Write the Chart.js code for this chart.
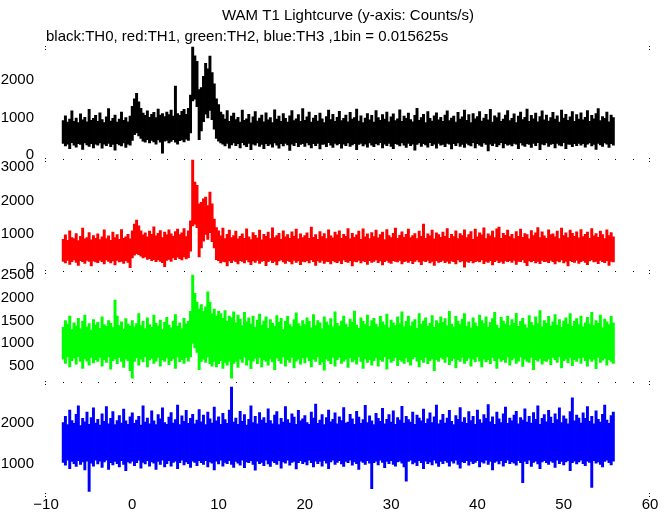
<!DOCTYPE html>
<html>
<head>
<meta charset="utf-8">
<script src="https://cdn.jsdelivr.net/npm/chart.js@4.4.1/dist/chart.umd.min.js"></script>
<style>
  html, body { margin: 0; padding: 0; background: #fff; }
</style>
</head>
<body>
<canvas id="lc" width="672" height="515"></canvas>
<script>
// each sample is the max / min of the curve inside a 0.25 s slice,
// read off the plot; the first slice is centred on t = -8 s
const binStart = -8;
const binStep = 0.25;

// black: TH0
const th0Hi = [
  920, 1050, 880, 960, 1180, 900, 990, 870, 1100, 940, 1010, 890, 1220, 930, 980, 1060,
  900, 1130, 950, 870, 1020, 1240, 910, 980, 1070, 880, 960, 1150, 930, 1000, 890, 1040,
  1300, 1500, 1650, 1420, 1250, 1120, 1060, 1180, 1010, 1090, 1140, 1000, 1230, 1070, 1110, 1030,
  1150, 1080, 1200, 1040, 1840, 1110, 1060, 1170, 1220, 1090, 1250, 1600, 2880, 2650, 2500, 1750,
  1800, 2100, 2450, 2300, 2640, 2200, 1900, 1500, 1350, 1150, 1080, 960, 1190, 900, 1040, 1120,
  950, 1010, 880, 1200, 930, 970, 1090, 860, 1020, 1160, 910, 990, 1070, 890, 1130, 940,
  1000, 870, 1210, 960, 1040, 900, 1110, 980, 880, 1050, 1190, 920, 970, 1080, 900, 1240,
  930, 1020, 1150, 880, 990, 1060, 910, 1120, 970, 870, 1030, 1200, 950, 1090, 900, 1010,
  1170, 920, 980, 1070, 890, 1140, 960, 1000, 1230, 910, 1050, 870, 990, 1110, 940, 1060,
  880, 1190, 1000, 930, 1080, 960, 1150, 890, 1020, 1100, 920, 970, 1210, 900, 1040, 980,
  1120, 950, 890, 1060, 1250, 930, 1000, 1090, 870, 1160, 980, 910, 1050, 1130, 940, 1010,
  900, 1070, 1180, 920, 990, 1040, 880, 1140, 960, 1020, 1200, 930, 1080, 870, 1110, 970,
  1030, 1160, 910, 990, 1090, 940, 1220, 880, 1050, 1000, 1130, 900, 960, 1070, 1190, 920,
  980, 1100, 870, 1040, 1150, 950, 1010, 1230, 900, 1060, 970, 1120, 890, 1030, 1180, 940,
  1070, 910, 1000, 1140, 960, 1050, 880, 1200, 990, 1090, 930, 1020, 1160, 900, 1080, 960,
  1130, 940, 1010, 1190, 900, 1060, 970, 1110, 1240, 920, 1030, 980, 1150, 890, 1070, 1000
];
const th0Lo = [
  320, 250, 300, 180, 340, 270, 220, 310, 290, 160, 330, 280, 240, 310, 200, 300,
  270, 330, 190, 300, 260, 320, 230, 290, 140, 310, 280, 250, 330, 210, 300, 270,
  400, 550, 600, 520, 450, 380, 350, 420, 330, 400, 360, 300, 410, 350, 60, 380,
  400, 330, 370, 420, 350, 300, 390, 410, 360, 430, 400, 600, 1450, 1500, 1300, 420,
  650, 900, 1100, 1000, 1200, 950, 700, 450, 380, 330, 300, 250, 320, 190, 280, 330,
  260, 310, 200, 340, 280, 230, 320, 150, 300, 270, 330, 240, 290, 180, 310, 260,
  300, 220, 330, 270, 190, 310, 250, 320, 280, 130, 300, 260, 340, 230, 290, 310,
  240, 330, 280, 200, 310, 260, 320, 170, 290, 300, 230, 340, 270, 210, 320, 280,
  310, 190, 300, 260, 330, 240, 280, 310, 150, 290, 320, 250, 300, 220, 330, 270,
  230, 310, 280, 340, 200, 300, 260, 320, 240, 180, 310, 290, 250, 330, 270, 210,
  320, 260, 300, 140, 290, 330, 240, 310, 280, 220, 340, 260, 300, 190, 320, 270,
  290, 230, 320, 300, 170, 310, 260, 330, 240, 290, 210, 320, 280, 250, 340, 200,
  310, 270, 240, 330, 290, 120, 300, 260, 320, 230, 280, 340, 200, 310, 270, 290,
  250, 320, 300, 180, 330, 270, 240, 310, 290, 210, 320, 260, 340, 150, 300, 280,
  330, 240, 290, 310, 200, 320, 270, 250, 340, 180, 300, 290, 230, 310, 260, 320,
  270, 310, 220, 300, 330, 250, 290, 160, 320, 280, 240, 330, 300, 210, 310, 270
];

// red: TH1
const th1Hi = [
  850, 980, 820, 1100, 900, 870, 1020, 810, 940, 1180, 860, 900, 1050, 830, 960, 880,
  1010, 840, 920, 1130, 870, 950, 820, 1060, 900, 990, 850, 1140, 880, 920, 1000, 860,
  1100, 1300, 1420, 1250, 1100, 980, 1040, 920, 1090, 1000, 1220, 950, 1030, 1110, 900, 1060,
  980, 1130, 1010, 940, 1080, 1150, 990, 1040, 1170, 930, 1100, 1400, 3200, 2550, 2450, 1900,
  1950, 2050, 2100, 1850, 2250, 1900, 1450, 1200, 1100, 950, 1180, 870, 1000, 1120, 900, 960,
  1090, 860, 940, 1010, 880, 1160, 920, 840, 1050, 970, 890, 1120, 830, 1000, 940, 1060,
  870, 1190, 900, 960, 1030, 850, 1100, 920, 990, 880, 1070, 940, 1150, 860, 1010, 900,
  960, 1040, 880, 1210, 910, 990, 850, 1080, 930, 1020, 870, 1130, 950, 890, 1060, 980,
  1100, 880, 1000, 940, 1170, 860, 1030, 910, 980, 1090, 850, 1160, 920, 1010, 870, 1050,
  930, 1120, 890, 990, 1060, 840, 1140, 960, 900, 1030, 1180, 880, 970, 1070, 910, 1000,
  1150, 900, 960, 1020, 870, 1090, 940, 1300, 880, 1010, 950, 1120, 860, 1040, 990, 910,
  1060, 940, 1170, 880, 1000, 930, 1100, 870, 1020, 960, 1130, 900, 990, 1080, 850, 1150,
  920, 1040, 980, 1190, 870, 1010, 950, 1090, 900, 1160, 1210, 880, 1030, 970, 1120, 930,
  1000, 870, 1080, 940, 1150, 910, 1020, 990, 860, 1110, 960, 1040, 1200, 900, 1070, 950,
  880, 1130, 990, 1010, 920, 1090, 870, 1180, 960, 1040, 900, 1120, 1030, 940, 1070, 890,
  1140, 930, 1000, 1060, 880, 1170, 950, 1020, 910, 1090, 990, 870, 1130, 960, 1050, 920
];
const th1Lo = [
  200, 150, 230, 110, 190, 240, 170, 80, 220, 190, 140, 230, 200, 60, 210, 180,
  160, 230, 190, 120, 240, 200, 150, 210, 90, 230, 180, 200, 140, 220, 170, 10,
  300, 380, 430, 400, 350, 300, 330, 260, 280, 220, 250, 190, 240, 200, 160, 40,
  230, 260, 200, 300, 250, 320, 280, 240, 330, 270, 310, 500, 1250, 1300, 1200, 330,
  600, 800, 1000, 850, 1050, 780, 600, 250, 220, 150, 200, 180, 60, 210, 160, 230,
  190, 120, 220, 200, 150, 240, 180, 100, 210, 170, 230, 140, 200, 220, 70, 190,
  230, 160, 200, 90, 210, 240, 180, 140, 220, 190, 120, 230, 170, 210, 100, 200,
  180, 220, 150, 240, 190, 80, 210, 170, 230, 140, 200, 190, 120, 220, 180, 160,
  210, 130, 240, 190, 170, 220, 60, 200, 180, 230, 150, 210, 190, 110, 220, 170,
  200, 240, 160, 210, 90, 190, 230, 170, 140, 220, 200, 180, 230, 120, 190, 210,
  170, 220, 130, 200, 240, 180, 100, 210, 190, 230, 150, 200, 80, 220, 170, 190,
  230, 160, 200, 140, 210, 190, 120, 240, 180, 210, 30, 200, 170, 220, 150, 190,
  210, 180, 240, 130, 200, 170, 220, 90, 190, 230, 160, 200, 140, 210, 190, 220,
  170, 230, 110, 200, 190, 240, 160, 70, 210, 180, 220, 150, 200, 130, 230, 190,
  200, 160, 230, 190, 120, 210, 180, 240, 150, 200, 60, 220, 190, 170, 230, 140,
  190, 220, 170, 100, 210, 240, 180, 200, 130, 230, 190, 160, 220, 80, 200, 180
];

// green: TH2
const th2Hi = [
  1350, 1500, 1420, 1600, 1300, 1450, 1380, 1550, 1320, 1480, 1620, 1360, 1430, 1290, 1520, 1400,
  1460, 1330, 1580, 1410, 1370, 1500, 1440, 1350, 1950, 1600, 1390, 1470, 1310, 1540, 1420, 1380,
  1500, 1360, 1430, 1650, 1390, 1480, 1320, 1560, 1410, 1350, 1620, 1440, 1380, 1510, 1300, 1460,
  1570, 1400, 1340, 1490, 1630, 1370, 1450, 1320, 1550, 1420, 1480, 1700, 2500, 2100, 1900, 1750,
  1850, 1700, 1800, 2130, 1900, 1650, 1750, 1600, 1700, 1650, 1550, 1720, 1480, 1600, 1560, 1690,
  1450, 1620, 1530, 1390, 1680, 1470, 1560, 1420, 1600, 1350, 1510, 1640, 1400, 1490, 1580, 1330,
  1520, 1440, 1370, 1610, 1460, 1550, 1300, 1480, 1590, 1410, 1360, 1520, 1670, 1430, 1380, 1500,
  1410, 1560, 1480, 1340, 1630, 1390, 1500, 1450, 1320, 1580, 1470, 1400, 1540, 1360, 1690, 1440,
  1380, 1490, 1600, 1420, 1350, 1530, 1460, 1710, 1400, 1330, 1560, 1480, 1410, 1620, 1370, 1500,
  1550, 1420, 1360, 1590, 1470, 1400, 1640, 1340, 1510, 1450, 1390, 1580, 1430, 1690, 1360, 1480,
  1600, 1380, 1470, 1520, 1330, 1650, 1420, 1490, 1560, 1370, 1440, 1610, 1350, 1500, 1430, 1580,
  1460, 1540, 1390, 1700, 1420, 1360, 1590, 1480, 1410, 1530, 1650, 1380, 1470, 1340, 1560, 1450,
  1370, 1620, 1500, 1430, 1580, 1350, 1460, 1540, 1680, 1400, 1330, 1570, 1490, 1420, 1600, 1390,
  1520, 1440, 1660, 1370, 1480, 1550, 1410, 1340, 1610, 1460, 1390, 1580, 1430, 1720, 1360, 1500,
  1440, 1590, 1380, 1470, 1630, 1400, 1520, 1350, 1490, 1560, 1420, 1650, 1370, 1480, 1540, 1410,
  1600, 1360, 1450, 1570, 1420, 1680, 1390, 1500, 1440, 1620, 1340, 1530, 1470, 1410, 1590, 1450
];
const th2Lo = [
  650, 560, 700, 480, 620, 680, 540, 700, 600, 450, 660, 610, 520, 690, 570, 640,
  600, 690, 500, 640, 580, 700, 430, 620, 660, 550, 690, 600, 470, 650, 620, 400,
  235, 600, 680, 520, 650, 590, 700, 480, 630, 670, 560, 610, 690, 500, 640, 600,
  680, 530, 620, 660, 450, 700, 590, 640, 560, 690, 610, 700, 1000, 900, 800, 420,
  600, 650, 580, 700, 550, 500, 600, 480, 550, 620, 450, 580, 520, 600, 235, 560,
  600, 470, 650, 580, 700, 520, 630, 440, 610, 670, 550, 690, 480, 640, 600, 520,
  660, 590, 420, 680, 620, 560, 700, 500, 640, 580, 690, 460, 610, 650, 540, 680,
  570, 690, 620, 480, 650, 600, 700, 530, 590, 410, 660, 620, 550, 690, 500, 640,
  690, 560, 610, 650, 470, 680, 590, 630, 540, 700, 600, 450, 660, 580, 640, 520,
  620, 680, 500, 640, 600, 700, 430, 660, 580, 620, 690, 510, 640, 600, 560, 680,
  590, 520, 660, 700, 610, 480, 640, 580, 690, 550, 620, 660, 400, 640, 600, 690,
  650, 580, 700, 530, 620, 670, 460, 640, 600, 690, 560, 620, 680, 500, 650, 590,
  700, 610, 480, 660, 590, 640, 550, 690, 620, 450, 670, 600, 640, 580, 700, 520,
  630, 680, 560, 610, 700, 490, 650, 600, 580, 690, 420, 640, 610, 670, 540, 620,
  600, 660, 530, 690, 640, 580, 700, 460, 620, 650, 570, 690, 510, 640, 600, 680,
  560, 690, 620, 500, 660, 600, 650, 440, 690, 580, 630, 670, 520, 640, 600, 560
];

// blue: TH3
const th3Hi = [
  2000, 2150, 1950, 2300, 2050, 1980, 2200, 2400, 1930, 2100, 2020, 2250, 1960, 2120, 2350, 1990,
  2080, 1940, 2210, 2030, 2380, 1970, 2100, 2260, 1950, 2050, 2170, 1990, 2320, 2040, 1960, 2140,
  2230, 1980, 2060, 2150, 1940, 2400, 2010, 2110, 1970, 2280, 2040, 1950, 2190, 2090, 2350, 2000,
  1960, 2130, 2240, 1990, 2070, 2420, 1950, 2160, 2030, 2290, 1980, 2100, 2200, 1970, 2060, 2310,
  2020, 2180, 1950, 2250, 2090, 1990, 2370, 2040, 2140, 1960, 2220, 2070, 1980, 2300, 2850, 2010,
  2110, 1960, 2270, 2030, 2190, 1940, 2080, 2400, 2000, 2150, 1970, 2240, 2060, 2120, 1990, 2330,
  2050, 1970, 2180, 2260, 1950, 2100, 2010, 2380, 2070, 1990, 2210, 2130, 1960, 2290, 2040, 2090,
  2170, 2000, 1960, 2250, 2110, 2440, 1980, 2060, 2190, 1950, 2120, 2300, 2020, 2080, 2230, 1970,
  2140, 2050, 2360, 1990, 2010, 2200, 2090, 1960, 2270, 2130, 1980, 2070, 2410, 2000, 2160, 2040,
  1950, 2220, 2100, 2030, 2340, 1970, 2080, 2190, 2010, 2280, 1960, 2120, 2060, 2390, 1990, 2150,
  2070, 2010, 2250, 1960, 2180, 2110, 2040, 2320, 1980, 2090, 2230, 2000, 2140, 2420, 1970, 2060,
  2200, 1990, 2110, 2290, 2030, 1950, 2170, 2080, 2360, 2010, 2120, 1980, 2260, 2050, 2150, 1960,
  2300, 2070, 1990, 2190, 2100, 2430, 2020, 2140, 1960, 2250, 2090, 2000, 2210, 2370, 1980, 2110,
  2040, 2180, 2270, 1970, 2120, 2060, 2330, 2010, 2150, 1990, 2240, 2080, 2400, 1960, 2100, 2190,
  2020, 2290, 2130, 1980, 2210, 2070, 2350, 2000, 2160, 2090, 1970, 2260, 2590, 2040, 2180, 2110,
  1990, 2230, 2100, 2380, 2030, 2150, 1970, 2280, 2080, 2010, 2200, 2420, 2060, 1980, 2170, 2250
];
const th3Lo = [
  1050, 980, 1100, 900, 1070, 1020, 950, 1090, 1000, 1060, 870, 1080, 350, 1030, 960, 1100,
  1010, 1080, 930, 1060, 1100, 880, 1040, 990, 1070, 1020, 940, 1090, 1000, 850, 1060, 1030,
  1080, 970, 1040, 1100, 910, 1050, 1010, 1090, 960, 1060, 1030, 880, 1070, 1000, 1100, 940,
  1020, 1090, 960, 1050, 1080, 900, 1040, 1100, 990, 1060, 1020, 930, 1080, 1050, 970, 1090,
  1040, 1000, 1090, 940, 1060, 1030, 870, 1080, 1010, 1100, 960, 1050, 1020, 1090, 1000, 930,
  1070, 1030, 980, 1100, 920, 1060, 1040, 1090, 1000, 860, 1080, 1020, 1050, 970, 1100, 1010,
  950, 1080, 1040, 1000, 1090, 910, 1060, 1030, 1100, 980, 1050, 1070, 890, 1040, 1090, 1020,
  1060, 990, 1100, 1040, 940, 1080, 1020, 1070, 960, 1090, 1030, 900, 1060, 1100, 1000, 1050,
  1090, 1010, 950, 1070, 1040, 1100, 980, 1060, 1020, 880, 1080, 1050, 1000, 1090, 1030, 420,
  1040, 1080, 990, 1100, 1050, 920, 1070, 1020, 1090, 1000, 960, 1060, 1080, 1030, 940, 600,
  1070, 1100, 1010, 1050, 970, 1090, 1040, 900, 1080, 1020, 1060, 990, 1100, 1030, 950, 1070,
  1020, 1090, 1050, 960, 1080, 1030, 1100, 1000, 910, 1060, 1040, 1090, 980, 1070, 1020, 1050,
  1090, 940, 1060, 1030, 1100, 1000, 1070, 870, 1050, 1080, 1010, 1090, 960, 1040, 1100, 1020,
  1060, 1030, 980, 1090, 1040, 560, 1070, 1020, 1100, 950, 1050, 1080, 1010, 900, 1060, 1090,
  1040, 1000, 1080, 1050, 930, 1100, 1020, 1070, 990, 1060, 1090, 850, 1040, 1080, 1010, 1060,
  1100, 1020, 970, 1080, 1050, 450, 1090, 1030, 1060, 1000, 940, 1070, 1100, 1040, 990, 1080
];

const xTicks = [-10, 0, 10, 20, 30, 40, 50, 60];
const yTicks0 = [0, 1000, 2000];
const yTicks1 = [0, 1000, 2000, 3000];
const yTicks2 = [500, 1000, 1500, 2000, 2500];
const yTicks3 = [1000, 2000];

const times = th0Hi.map((_, i) => binStart + i * binStep);

const FONT = "'Liberation Sans', Arial, Helvetica, sans-serif";
Chart.defaults.font.family = FONT;
Chart.defaults.font.size = 15;
Chart.defaults.color = '#000';

// little tick dots along the panel edges
const edgeDots = {
  id: 'edgeDots',
  afterDraw(chart) {
    const ctx = chart.ctx;
    const xs = chart.scales.x;
    const panels = ['y0', 'y1', 'y2', 'y3'].map(id => chart.scales[id]);
    const edges = [panels[0].top].concat(panels.map(s => s.bottom));
    ctx.save();
    ctx.fillStyle = '#000';
    edges.forEach((y, k) => {
      const yy = Math.round(y);
      [xs.left, xs.right].forEach(x => {
        ctx.fillRect(Math.round(x) - 1, yy + 1, 1, 1);
        ctx.fillRect(Math.round(x) - 1, yy + 4, 1, 1);
      });
      if (k > 0 && k < edges.length - 1) {
        for (let t = -8; t <= 58; t += 2) {
          ctx.fillRect(Math.round(xs.getPixelForValue(t)), yy + 2, 1, 1);
        }
      }
    });
    ctx.restore();
  }
};

function panelAxis(min, max, ticks) {
  return {
    type: 'linear',
    position: 'left',
    stack: 'lc',
    stackWeight: 1,
    min: min,
    max: max,
    grid: { display: false, drawTicks: false },
    border: { display: false },
    ticks: { padding: 12, autoSkip: false, callback: v => String(v) },
    afterBuildTicks: s => { s.ticks = ticks.map(v => ({ value: v })); },
    afterFit: s => { s.width = 46; }
  };
}

// floating bar per slice: [min, max]
function series(hi, lo, color, axis) {
  return {
    data: lo.map((v, i) => [v, hi[i]]),
    yAxisID: axis,
    backgroundColor: color,
    borderWidth: 0,
    grouped: false,
    barPercentage: 1,
    categoryPercentage: 1,
    inflateAmount: 0.4
  };
}

new Chart(document.getElementById('lc'), {
  type: 'bar',
  data: {
    labels: times,
    datasets: [
      series(th0Hi, th0Lo, '#000000', 'y0'),
      series(th1Hi, th1Lo, '#ff0000', 'y1'),
      series(th2Hi, th2Lo, '#00ff00', 'y2'),
      series(th3Hi, th3Lo, '#0000ff', 'y3')
    ]
  },
  options: {
    responsive: false,
    animation: false,
    events: [],
    layout: { padding: { left: 0, right: 22, top: 0, bottom: 0 } },
    plugins: {
      legend: { display: false },
      tooltip: { enabled: false },
      title: {
        display: true,
        text: 'WAM T1 Lightcurve (y-axis: Counts/s)',
        fullSize: false,
        color: '#000',
        font: { size: 15, weight: 'normal', lineHeight: 1 },
        padding: { top: 8, bottom: 0 }
      },
      subtitle: {
        display: true,
        text: 'black:TH0, red:TH1, green:TH2, blue:TH3 ,1bin = 0.015625s',
        fullSize: false,
        align: 'start',
        color: '#000',
        font: { size: 15, weight: 'normal', lineHeight: 1 },
        padding: { top: 6, bottom: 1 }
      }
    },
    scales: {
      x: {
        type: 'linear',
        position: 'bottom',
        offset: false,
        min: -10,
        max: 60,
        grid: { display: false, drawTicks: false, offset: false },
        border: { display: false },
        ticks: {
          padding: 4,
          callback: v => (v < 0 ? '\u2212' + Math.abs(v) : String(v))
        },
        afterBuildTicks: s => { s.ticks = xTicks.map(v => ({ value: v })); },
        afterFit: s => { s.height = 23; }
      },
      // listed bottom panel first: the last one is stacked on top
      y3: panelAxis(336, 3016, yTicks3),
      y2: panelAxis(186, 2647, yTicks2),
      y1: panelAxis(-15, 3301, yTicks1),
      y0: panelAxis(-40, 2940, yTicks0)
    }
  },
  plugins: [edgeDots]
});
</script>
</body>
</html>
